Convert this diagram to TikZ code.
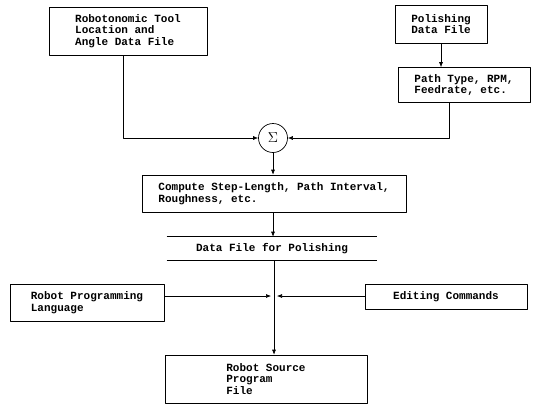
\documentclass[tikz,border=0pt]{standalone}
\usepackage{fontspec}
\setmonofont{Liberation Mono}
\usepackage{tikz}
\usetikzlibrary{arrows.meta}

\begin{document}
\begin{tikzpicture}[x=1pt, y=-1pt, line join=round,
  box/.style={draw, line width=0.6pt, rectangle, align=left, inner sep=0pt,
    font=\ttfamily\bfseries\fontsize{11}{11.5}\selectfont},
  link/.style={line width=0.6pt, -{Latex[length=5pt,width=4pt]}}]

  \useasboundingbox (0,0) rectangle (540,405);

  % Input files
  \node[box, minimum width=158pt, minimum height=48pt] (tool) at (128,31)
    {Robotonomic Tool\\Location and\\Angle Data File};
  \node[box, minimum width=92pt, minimum height=38pt] (polish) at (441,24)
    {Polishing\\Data File};
  \node[box, minimum width=132pt, minimum height=35pt] (path) at (464,85)
    {Path Type, RPM,\\Feedrate, etc.};

  % Summing junction
  \node[draw, circle, line width=0.7pt, minimum size=29pt, inner sep=0pt, font=\Large] (sum) at (273,138) {$\Sigma$};

  % Processing
  \node[box, minimum width=264pt, minimum height=37pt] (compute) at (274,193.5)
    {Compute Step-Length, Path Interval,\\Roughness, etc.};
  \node[box, draw=none, minimum width=210pt, minimum height=23pt] (data) at (272,248.5)
    {Data File for Polishing};
  \draw[line width=0.6pt] (data.north west) -- (data.north east);
  \draw[line width=0.6pt] (data.south west) -- (data.south east);

  % Side inputs
  \node[box, minimum width=154pt, minimum height=37pt] (lang) at (87,302.5)
    {Robot Programming\\Language};
  \node[box, minimum width=162pt, minimum height=25pt] (edit) at (446,296.5)
    {Editing Commands};
  \coordinate (merge) at (274,296);

  % Output
  \node[box, minimum width=202pt, minimum height=48pt] (source) at (266,379)
    {Robot Source\\Program\\File};

  % Connectors
  \draw[link] (polish.south) -- (polish.south |- path.north);
  \draw[link] ([xshift=-5pt]tool.south) |- (sum);
  \draw[link] ([xshift=-15pt]path.south) |- (sum);
  \draw[link] (sum.south) -- (sum.south |- compute.north);
  \draw[link] (compute.south -| sum) -- (data.north -| sum);
  \draw[link] (data.south -| merge) -- (source.north -| merge);
  \draw[link, shorten >=3pt] (lang.east |- merge) -- (merge);
  \draw[link, shorten >=3pt] (edit.west |- merge) -- (merge);

\end{tikzpicture}
\end{document}
